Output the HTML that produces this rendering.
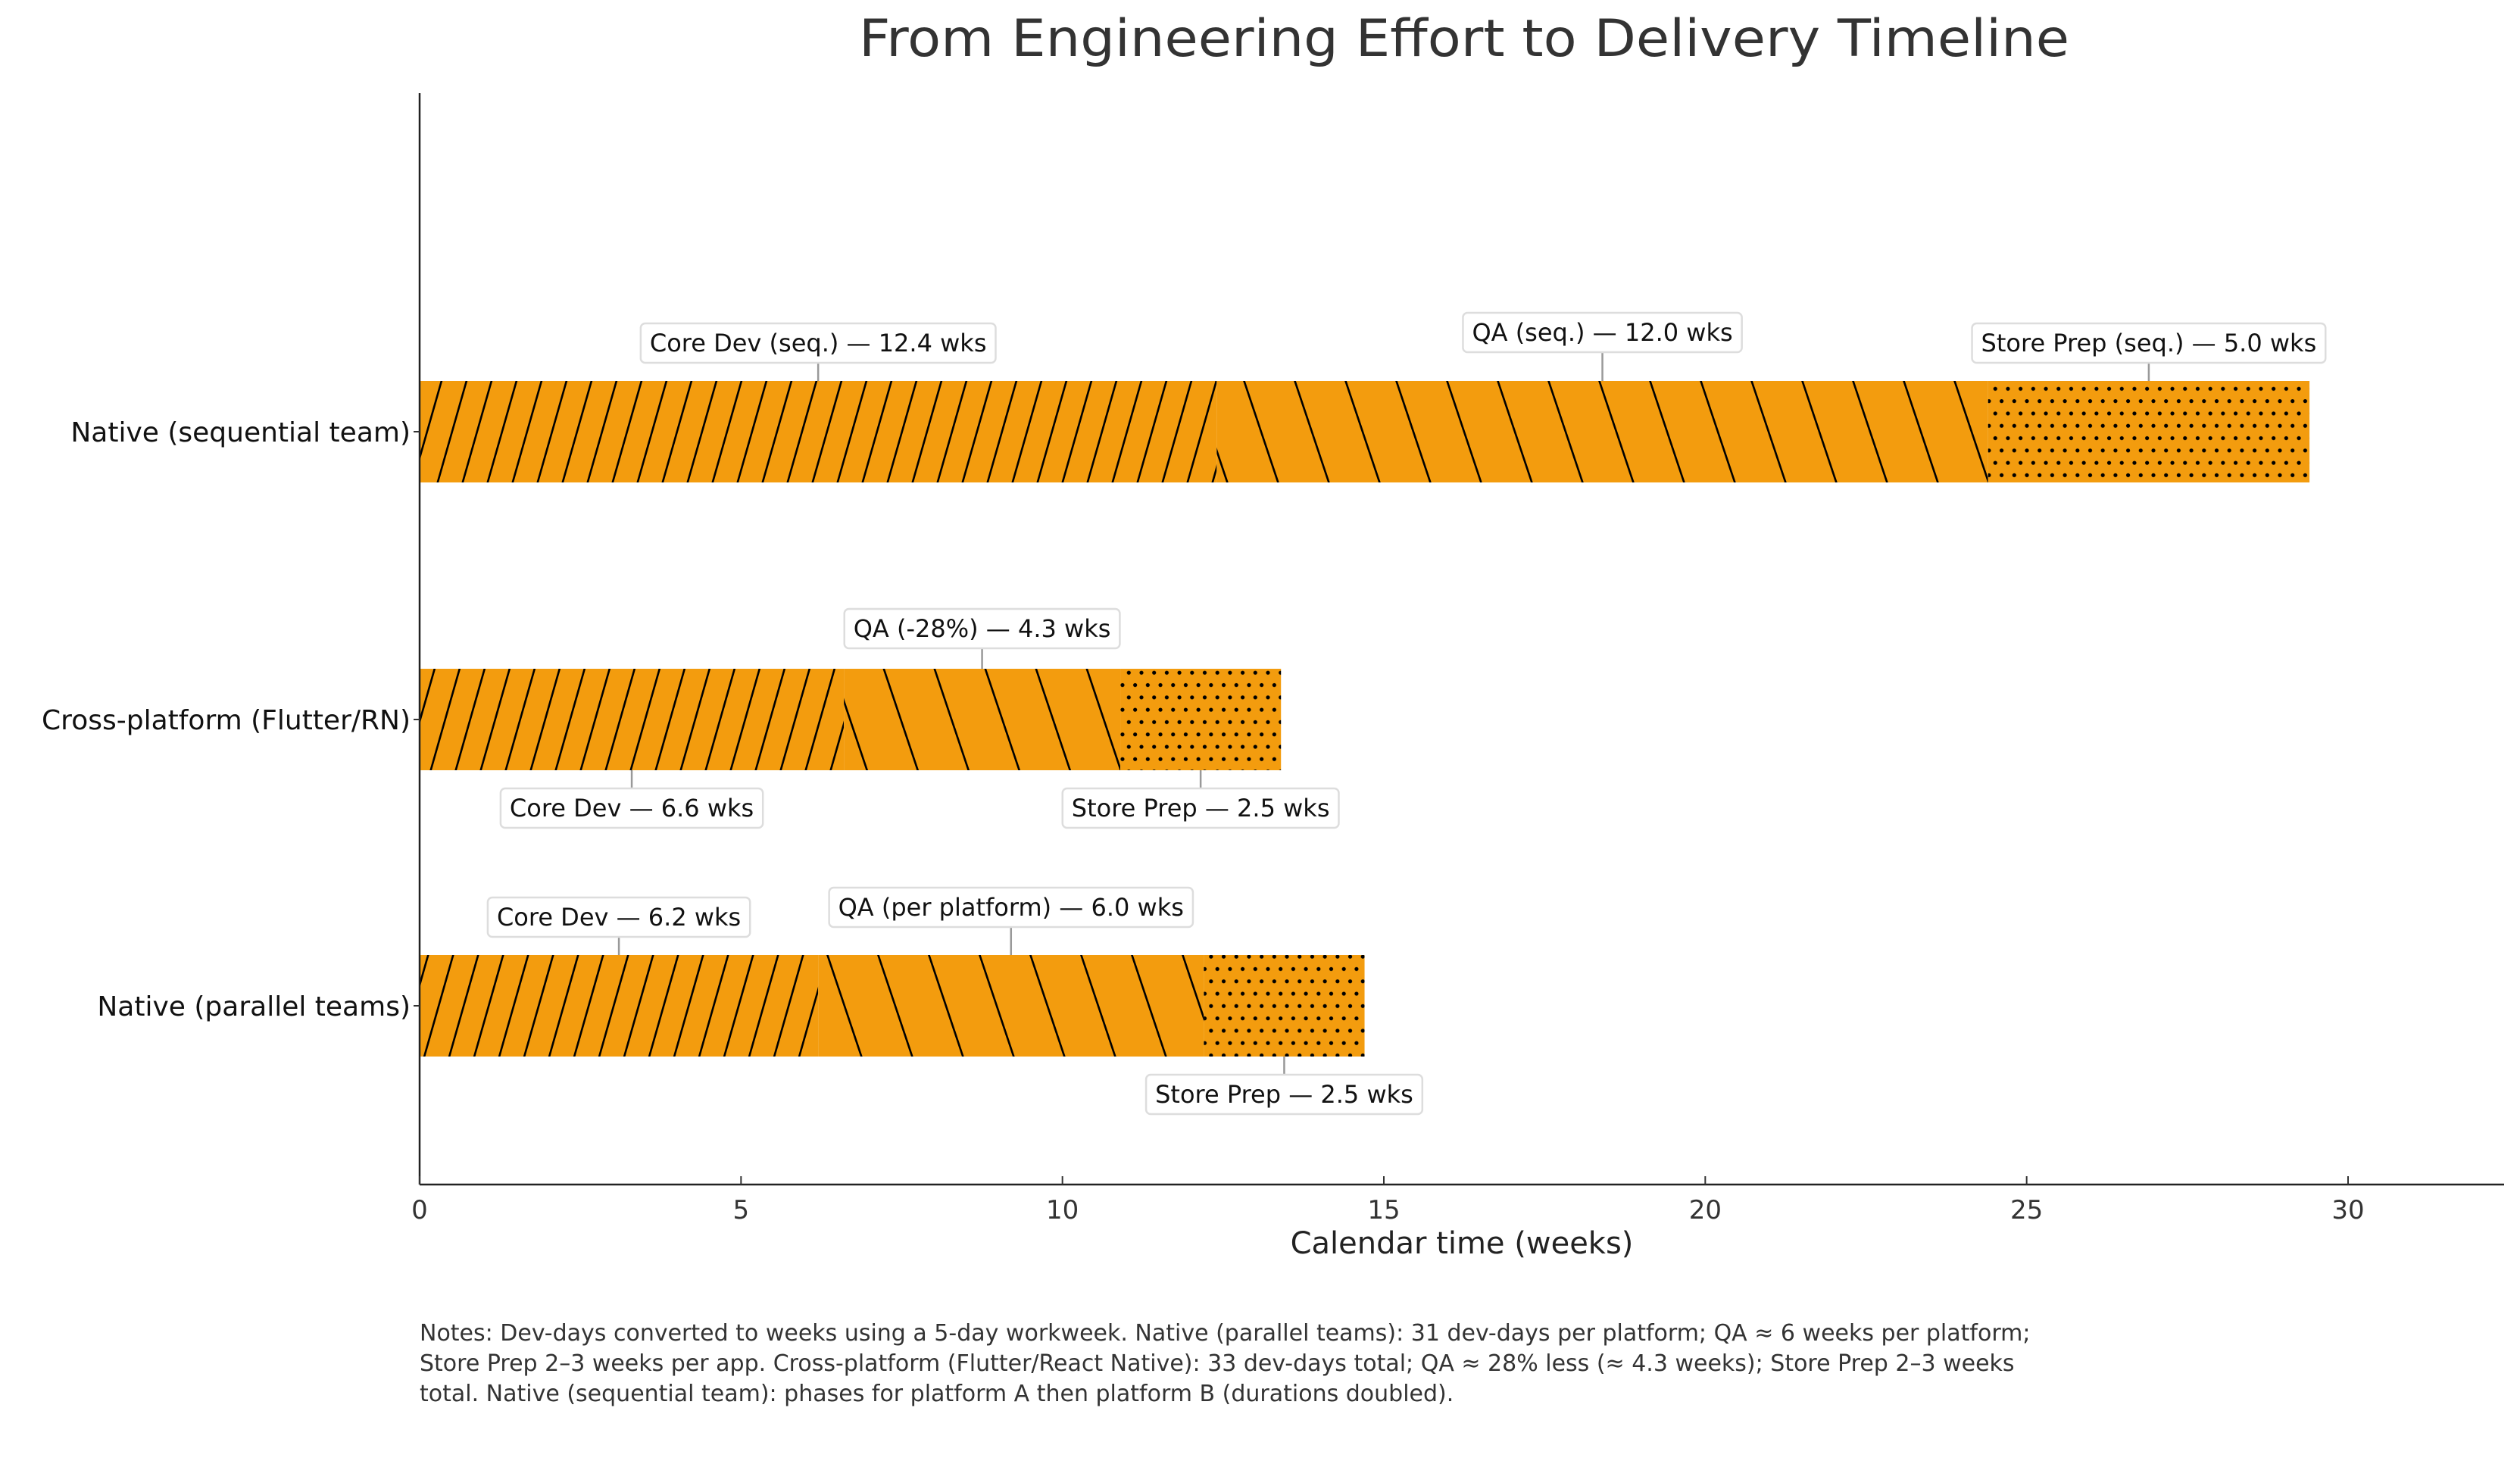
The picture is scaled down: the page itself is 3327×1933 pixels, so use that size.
<!DOCTYPE html>
<html><head><meta charset="utf-8"><style>
html,body{margin:0;padding:0;background:#fff;}
svg{display:block;font-family:"DejaVu Sans","Liberation Sans",sans-serif;}
</style></head><body>
<svg id="chart" width="3327" height="1933" viewBox="0 0 3327 1933" xmlns="http://www.w3.org/2000/svg">
<defs>
<pattern id="hatch-core" patternUnits="userSpaceOnUse" width="33" height="116">
<rect width="33" height="116" fill="#f39c0e"/>
<line x1="-33" y1="232" x2="66" y2="-116" stroke="#000" stroke-width="2.6"/>
<line x1="-66" y1="232" x2="33" y2="-116" stroke="#000" stroke-width="2.6"/>
<line x1="0" y1="232" x2="99" y2="-116" stroke="#000" stroke-width="2.6"/>
</pattern>
<pattern id="hatch-qa" patternUnits="userSpaceOnUse" width="67" height="200">
<rect width="67" height="200" fill="#f39c0e"/>
<line x1="-67" y1="-200" x2="134" y2="400" stroke="#000" stroke-width="2.6"/>
<line x1="0" y1="-200" x2="201" y2="400" stroke="#000" stroke-width="2.6"/>
<line x1="-134" y1="-200" x2="67" y2="400" stroke="#000" stroke-width="2.6"/>
</pattern>
<pattern id="hatch-store" patternUnits="userSpaceOnUse" width="16.7" height="32.6">
<rect width="16.7" height="32.6" fill="#f39c0e"/>
<circle cx="4" cy="8" r="2.6" fill="#000"/>
<circle cx="12.35" cy="24.3" r="2.6" fill="#000"/>
</pattern>
</defs>
<text x="1933" y="74" text-anchor="middle" font-size="68" fill="#333" textLength="1598" lengthAdjust="spacingAndGlyphs">From Engineering Effort to Delivery Timeline</text>
<g id="plot"></g>
<text x="1930" y="1655" text-anchor="middle" font-size="40" fill="#222">Calendar time (weeks)</text>
<g font-size="30" fill="#333">
<text x="554" y="1770">Notes: Dev-days converted to weeks using a 5-day workweek. Native (parallel teams): 31 dev-days per platform; QA ≈ 6 weeks per platform;</text>
<text x="554" y="1810">Store Prep 2–3 weeks per app. Cross-platform (Flutter/React Native): 33 dev-days total; QA ≈ 28% less (≈ 4.3 weeks); Store Prep 2–3 weeks</text>
<text x="554" y="1850">total. Native (sequential team): phases for platform A then platform B (durations doubled).</text>
</g>
</svg>
<script>
const categories = ["Native (sequential team)", "Cross-platform (Flutter/RN)", "Native (parallel teams)"];
const coreDev = [12.4, 6.6, 6.2];
const qa = [12.0, 4.3, 6.0];
const storePrep = [5.0, 2.5, 2.5];
const coreLabels = ["Core Dev (seq.) — 12.4 wks", "Core Dev — 6.6 wks", "Core Dev — 6.2 wks"];
const qaLabels = ["QA (seq.) — 12.0 wks", "QA (-28%) — 4.3 wks", "QA (per platform) — 6.0 wks"];
const storeLabels = ["Store Prep (seq.) — 5.0 wks", "Store Prep — 2.5 wks", "Store Prep — 2.5 wks"];
const xTicks = [0, 5, 10, 15, 20, 25, 30];

const NS = "http://www.w3.org/2000/svg";
const X0 = 554, PXW = (3100 - 554) / 30, AX_RIGHT = 3306, AX_TOP = 123, AX_BOT = 1564;
const rowCenters = [570, 950, 1328];
const BAR_H = 134;
const xs = v => X0 + v * PXW;
const ys = i => rowCenters[i];
const plot = document.getElementById('plot');
function mk(tag, attrs, parent) {
  const e = document.createElementNS(NS, tag);
  for (const k in attrs) e.setAttribute(k, attrs[k]);
  (parent || plot).appendChild(e);
  return e;
}
// label placement: side (-1 above, 1 below) and gap
const coreSide = [-1, 1, -1], coreGap = [24, 24, 24];
const qaSide = [-1, -1, -1], qaGap = [38, 27, 37];
const storeSide = [-1, 1, 1], storeGap = [24, 24, 24];

function label(text, cx, i, side, gap, name) {
  const top = ys(i) - BAR_H / 2, bot = ys(i) + BAR_H / 2;
  const bh = 52;
  const by = side < 0 ? top - gap - bh : bot + gap;
  const g = mk('g', {});
  
  
  const ln = mk('line', {x1: cx, x2: cx, y1: side < 0 ? top : bot, y2: side < 0 ? by + bh : by, stroke: '#999', 'stroke-width': 2.5}, g);
  const rect = mk('rect', {y: by, height: bh, rx: 6, fill: '#fff', stroke: '#ddd', 'stroke-width': 2.5}, g);
  const t = mk('text', {x: cx, y: by + bh / 2 + 11, 'text-anchor': 'middle', 'font-size': 32, fill: '#111'}, g);
  t.textContent = text;
  const w = t.getComputedTextLength() + 24;
  rect.setAttribute('x', cx - w / 2);
  rect.setAttribute('width', w);
}

// bars
categories.forEach((c, i) => {
  const segs = [[0, coreDev[i], 'url(#hatch-core)', 'core-dev'], [coreDev[i], qa[i], 'url(#hatch-qa)', 'qa'], [coreDev[i] + qa[i], storePrep[i], 'url(#hatch-store)', 'store-prep']];
  segs.forEach(s => {
    const r = mk('rect', {x: xs(s[0]), y: ys(i) - BAR_H / 2, width: xs(s[0] + s[1]) - xs(s[0]), height: BAR_H, fill: s[2]});
    
    
  });
});
// axes
const yAx = mk('line', {x1: X0, x2: X0, y1: AX_TOP, y2: AX_BOT, stroke: '#222', 'stroke-width': 2.5});


const xAx = mk('line', {x1: X0, x2: AX_RIGHT, y1: AX_BOT, y2: AX_BOT, stroke: '#222', 'stroke-width': 2.5});


xTicks.forEach(v => {
  const tk = mk('line', {x1: xs(v), x2: xs(v), y1: AX_BOT - 11, y2: AX_BOT, stroke: '#333', 'stroke-width': 2});
  
  
  const t = mk('text', {x: xs(v), y: AX_BOT + 45, 'text-anchor': 'middle', 'font-size': 34, fill: '#333'});
  
  
  t.textContent = v;
});
categories.forEach((c, i) => {
  const tk = mk('line', {x1: X0 - 8, x2: X0, y1: ys(i), y2: ys(i), stroke: '#333', 'stroke-width': 2});
  
  
  const t = mk('text', {x: X0 - 12, y: ys(i) + 13, 'text-anchor': 'end', 'font-size': 36, fill: '#111'});
  
  
  t.textContent = c;
});
// annotations
categories.forEach((c, i) => {
  label(coreLabels[i], xs(coreDev[i] / 2), i, coreSide[i], coreGap[i], 'core-dev-label');
  label(qaLabels[i], xs(coreDev[i] + qa[i] / 2), i, qaSide[i], qaGap[i], 'qa-label');
  label(storeLabels[i], xs(coreDev[i] + qa[i] + storePrep[i] / 2), i, storeSide[i], storeGap[i], 'store-prep-label');
});
</script>
</body></html>
